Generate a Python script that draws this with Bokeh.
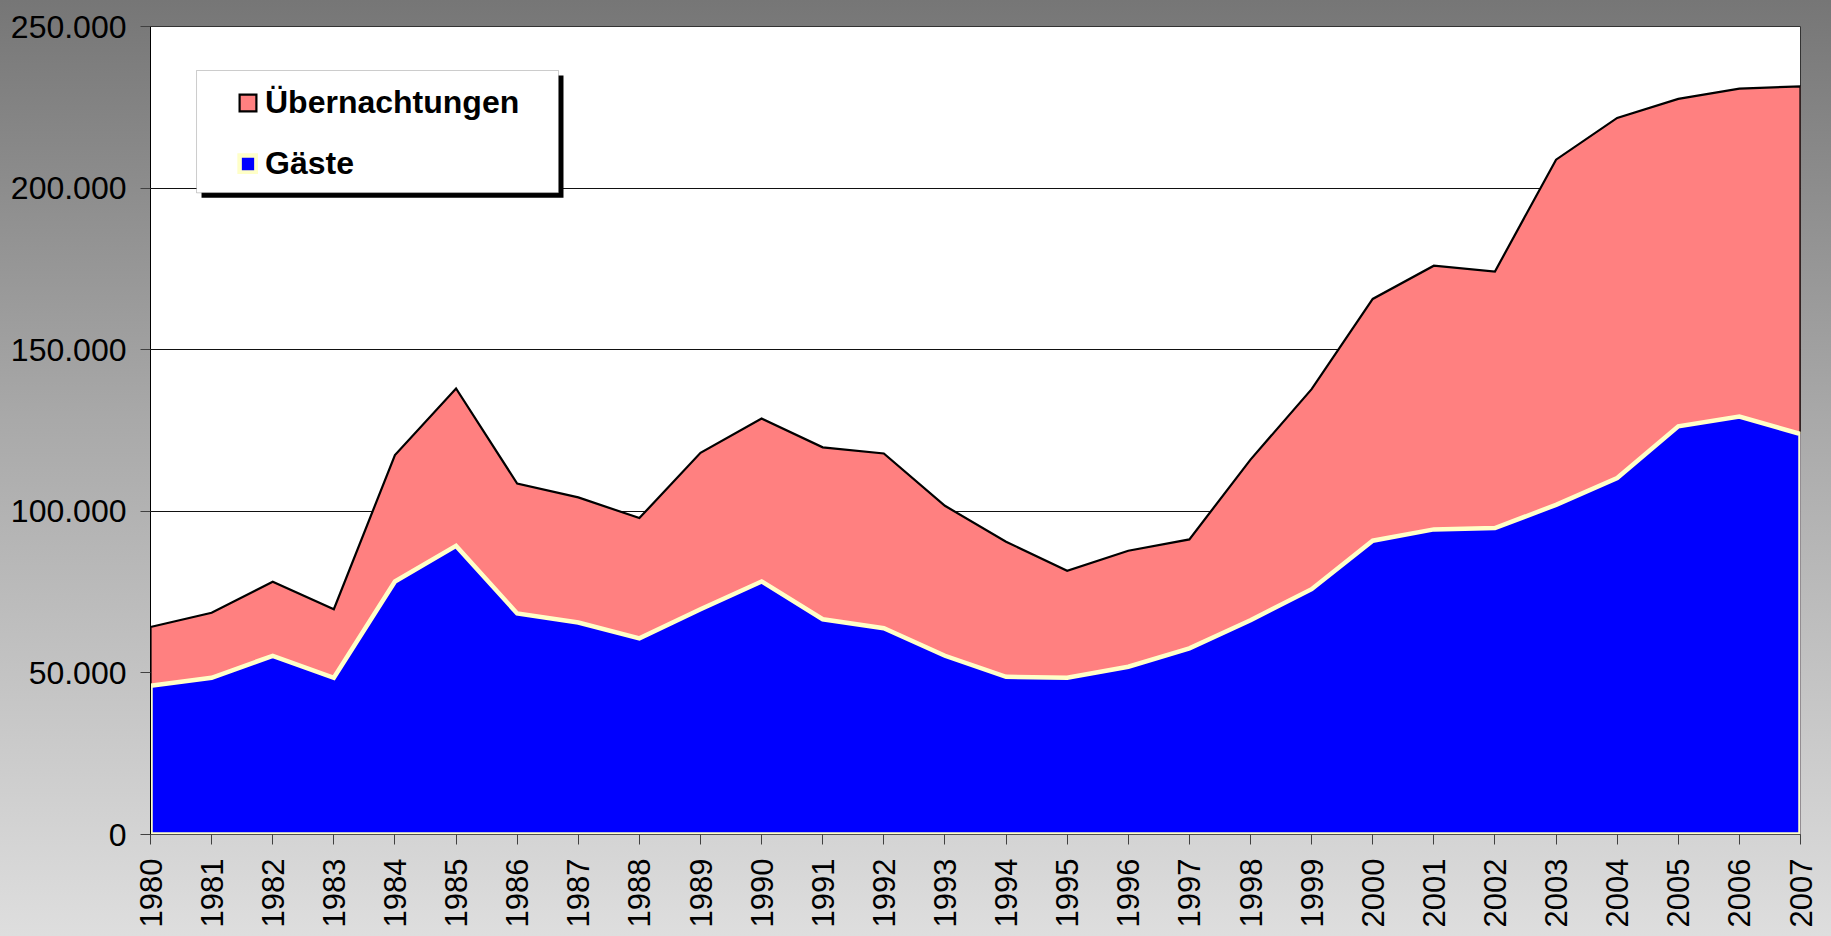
import math
from bokeh.plotting import figure
from bokeh.models import Range1d, FixedTicker, Legend, LegendItem, BoxAnnotation
from bokeh.embed import file_html
from bokeh.resources import INLINE

# ---- data ----
years = list(range(1980, 2008))
uebernachtungen = [64200, 68600, 78200, 69700, 117400, 138000, 108600, 104300, 97900,
                   118100, 128700, 119800, 117900, 101700, 90600, 81600, 87800, 91300,
                   116000, 137800, 165700, 176000, 174200, 208800, 221700, 227600, 230800, 231500]
gaeste = [46000, 48500, 55300, 48500, 78300, 89300, 68400, 65600, 60700,
          69700, 78300, 66600, 63800, 55300, 48800, 48500, 51900, 57600,
          66300, 75900, 90900, 94400, 94800, 102000, 110300, 126300, 129300, 123900]
series_names = ["Übernachtungen", "Gäste"]
y_ticks = [0, 50000, 100000, 150000, 200000, 250000]
y_tick_labels = ["0", "50.000", "100.000", "150.000", "200.000", "250.000"]
x_tick_labels = [str(y) for y in years]

FONT = "Liberation Sans"

p = figure(width=1831, height=936, output_backend="svg", toolbar_location=None,
           x_range=Range1d(years[0], years[-1]), y_range=Range1d(0, 250000),
           min_border_left=150, min_border_right=31, min_border_top=26, min_border_bottom=102)
p.border_fill_alpha = 0
p.styles = {"background": "linear-gradient(to bottom, #767676 0%, #a9a9a9 45%, #dedede 100%)"}
p.background_fill_color = "white"
p.outline_line_color = "#333333"
p.outline_line_width = 1

# area polygons built from the data
xs_poly = years + [years[-1], years[0]]
ue_poly = uebernachtungen + [0, 0]
g_poly = gaeste + [0, 0]

r_ue = p.patch(xs_poly, ue_poly, fill_color="#ff8080", line_color="black",
               line_width=2.2, line_join="miter")
r_g = p.patch(xs_poly, g_poly, fill_color="#0000ff", line_color="#ffffc8",
              line_width=4.5, line_join="miter")

# axes
p.xaxis.ticker = FixedTicker(ticks=years)
p.xaxis.major_label_overrides = dict(zip(years, x_tick_labels))
p.xaxis.major_label_orientation = math.pi / 2
p.yaxis.ticker = FixedTicker(ticks=y_ticks)
p.yaxis.major_label_overrides = dict(zip(y_ticks, y_tick_labels))
for ax in (p.xaxis[0], p.yaxis[0]):
    ax.major_label_text_font = FONT
    ax.major_label_text_font_size = "31px"
    ax.major_label_text_color = "black"
    ax.minor_tick_line_color = None
    ax.major_tick_in = 0
    ax.major_tick_out = 10
    ax.major_tick_line_color = "#404040"
    ax.major_label_standoff = 14
p.yaxis.major_label_text_font_size = "32px"
p.yaxis.axis_line_color = "black"
p.xaxis.axis_line_color = "#505050"

p.xgrid.grid_line_color = None
p.ygrid.ticker = FixedTicker(ticks=y_ticks)
p.ygrid.grid_line_color = "#111111"
p.ygrid.grid_line_width = 1

# legend frame with shadow
shadow = BoxAnnotation(left=1980.835, right=1986.758, top=234839, bottom=196999,
                       fill_color="black", fill_alpha=1, line_color=None)
box = BoxAnnotation(left=1980.753, right=1986.677, top=236386, bottom=198546,
                    fill_color="white", fill_alpha=1, line_color="#555555", line_width=1)
p.add_layout(shadow)
p.add_layout(box)

legend = Legend(items=[LegendItem(label=series_names[0], renderers=[r_ue]),
                       LegendItem(label=series_names[1], renderers=[r_g])],
                location=(87, 652), padding=0, margin=0, spacing=24,
                glyph_width=21, glyph_height=21, label_standoff=7, label_height=21,
                label_text_font=FONT, label_text_font_style="bold",
                label_text_font_size="32px", label_text_color="black",
                background_fill_alpha=0, border_line_alpha=0)
p.add_layout(legend)

open("out.html", "w").write(file_html(p, INLINE))
